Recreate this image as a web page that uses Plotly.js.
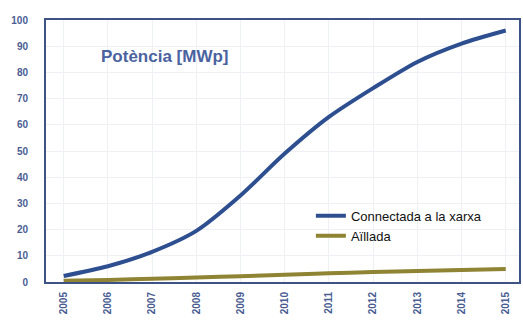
<!DOCTYPE html>
<html>
<head>
<meta charset="utf-8">
<script src="https://cdn.plot.ly/plotly-3.0.1.min.js"></script>
<style>html,body{margin:0;padding:0;background:#fff;}#chart{width:523px;height:325px;}</style>
</head>
<body>
<div id="chart"></div>
<script>
var years = [2005, 2006, 2007, 2008, 2009, 2010, 2011, 2012, 2013, 2014, 2015];
var connectada = [2.3, 6, 11.5, 19.5, 33, 49, 63, 74, 84, 91, 96];
var aillada = [0.5, 0.8, 1.2, 1.7, 2.2, 2.8, 3.3, 3.8, 4.2, 4.6, 5];
var yTicks = [0, 10, 20, 30, 40, 50, 60, 70, 80, 90, 100];

var traces = [
  {x: years, y: connectada, name: 'Connectada a la xarxa', mode: 'lines',
   line: {color: '#2e4f8f', width: 4, shape: 'spline', smoothing: 0.8}},
  {x: years, y: aillada, name: 'Aïllada', mode: 'lines',
   line: {color: '#8f8433', width: 4, shape: 'spline'}}
];

var tickFont = {family: 'Liberation Sans, Arial, sans-serif', size: 10, color: '#4a5d93', weight: 'bold'};

var layout = {
  width: 523, height: 325,
  margin: {l: 46, r: 4, t: 20, b: 43},
  paper_bgcolor: '#ffffff', plot_bgcolor: '#ffffff',
  showlegend: true,
  legend: {x: 0.56, y: 0.31, xanchor: 'left', yanchor: 'top',
    bgcolor: 'rgba(255,255,255,0)', borderwidth: 0,
    font: {family: 'Liberation Sans, Arial, sans-serif', size: 13, color: '#111'},
    tracegroupgap: 2},
  xaxis: {range: [2004.6, 2015.3], tickvals: years, ticktext: years.map(String),
    tickangle: -90, tickfont: tickFont, showgrid: true, gridcolor: '#eef0f4',
    showline: true, mirror: true, linecolor: '#3e5385', linewidth: 2,
    ticks: 'outside', ticklen: 4, tickcolor: 'rgba(0,0,0,0)', zeroline: false, fixedrange: true},
  yaxis: {range: [0, 100], tickvals: yTicks, tickfont: tickFont,
    showgrid: true, gridcolor: '#eef0f4',
    showline: true, mirror: true, linecolor: '#3e5385', linewidth: 2,
    ticks: 'outside', ticklen: 14, tickcolor: 'rgba(0,0,0,0)', zeroline: false, fixedrange: true},
  annotations: [{text: 'Potència [MWp]', xref: 'paper', yref: 'paper',
    x: (99 - 46) / 473, y: (282 - 57) / 262, xanchor: 'left', yanchor: 'middle',
    showarrow: false,
    font: {family: 'Liberation Sans, Arial, sans-serif', size: 17, color: '#4a62a0', weight: 'bold'}}]
};

Plotly.newPlot('chart', traces, layout, {staticPlot: true, displayModeBar: false});
</script>
</body>
</html>
